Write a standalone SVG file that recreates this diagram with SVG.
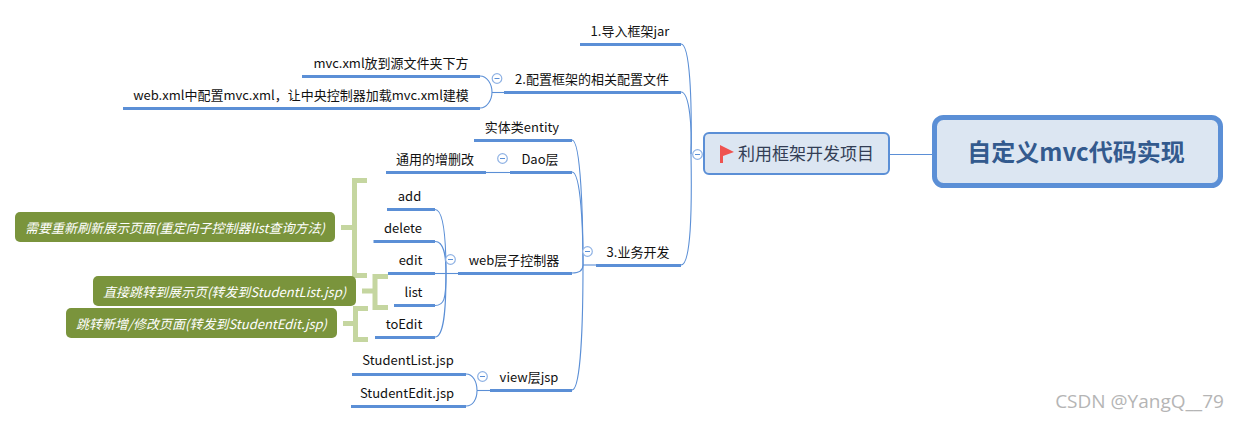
<svg xmlns="http://www.w3.org/2000/svg" width="1239" height="423" viewBox="0 0 1239 423">
<style>
text{font-family:"Noto Sans CJK SC","Noto Sans",sans-serif;font-size:13px;fill:#111;text-anchor:middle}
.u{stroke:#5b8fd6;stroke-width:3;fill:none}
.c{stroke:#5b8fd6;stroke-width:1.1;fill:none}
.o{fill:#fff;stroke:#8fb2e4;stroke-width:1.2}
.m{stroke:#5b8fd6;stroke-width:1;fill:none}
.b{fill:none;stroke:#c5d6a0;stroke-width:5}
.g{fill:#7a943c}
.gt{fill:#fff;font-style:italic}
</style>
<rect width="1239" height="423" fill="#fff"/>
<g id="connectors">
<path class="c" d="M890 154.500H932"/>
<path class="c" d="M691 154C692 100 690 44 681 44"/>
<path class="c" d="M691 154C692 130 690 92 681 92"/>
<path class="c" d="M691 154C692 210 691 265 681 265"/>
<path class="c" d="M583 265H596"/>
<path class="c" d="M583 265C583 220 581 140 572 140"/>
<path class="c" d="M583 265C583 230 581 172 572 172"/>
<path class="c" d="M583 265C583 270 580 273 572 273"/>
<path class="c" d="M583 265C583 320 581 390 572 390"/>
<path class="c" d="M486 172.500H510"/>
<path class="c" d="M435 273.500H458"/>
<path class="c" d="M446 273C446 240 444 209.500 435 209.500"/>
<path class="c" d="M446 273C446 255 444 241.500 435 241.500"/>
<path class="c" d="M446 273C446 300 444 305.500 435 305.500"/>
<path class="c" d="M446 273C446 310 444 337 435 337"/>
<path class="c" d="M477 390.500H490"/>
<path class="c" d="M477 390.500C477 382 473 374 466 374"/>
<path class="c" d="M477 390.500C477 399 473 406 466 406"/>
<path class="c" d="M492 92.500H504"/>
<path class="c" d="M492 92C492 84 487 76 480 76"/>
<path class="c" d="M492 92C492 100 487 108 480 108"/>
<path class="b" d="M367 180.500H354.500V275.500H367M341 227.500H354"/>
<path class="b" d="M388 276.500H375V307.500H388M362 291H375"/>
<path class="b" d="M368 308.500H355.500V339.500H368M343 323.500H355"/>
</g>
<g id="root"><rect x="934.500" y="117.500" width="286" height="68" rx="9" fill="#dce6f2" stroke="#5b8fd6" stroke-width="5"/><text x="1076" y="161" style="font-size:24px;font-weight:700;fill:#335a8e">自定义mvc代码实现</text></g>
<g id="main"><rect x="704" y="133" width="185" height="41" rx="5" fill="#dce6f2" stroke="#5b8fd6" stroke-width="2"/><path d="M720 145L734 152L723 156V163H720Z" fill="#ef5350"/><text x="806" y="160" style="font-size:17px;fill:#333e55">利用框架开发项目</text><circle class="o" cx="697.500" cy="154.500" r="4.800"/><path class="m" d="M695 154.500H700"/></g>
<g id="n1"><path class="u" d="M580 44.500H681"/><text x="630" y="36">1.导入框架jar</text></g>
<g id="n2"><path class="u" d="M504 92.500H681"/><text x="592" y="84">2.配置框架的相关配置文件</text><circle class="o" cx="497" cy="78.500" r="4.800"/><path class="m" d="M494.500 78.500H499.500"/></g>
<g id="n21"><path class="u" d="M302 76.500H480"/><text x="391" y="68">mvc.xml放到源文件夹下方</text></g>
<g id="n22"><path class="u" d="M123 108.500H480"/><text x="301" y="100">web.xml中配置mvc.xml，让中央控制器加载mvc.xml建模</text></g>
<g id="n3"><path class="u" d="M596 265.500H681"/><text x="638" y="257">3.业务开发</text><circle class="o" cx="587.500" cy="251.500" r="4.800"/><path class="m" d="M585 251.500H590"/></g>
<g id="n31"><path class="u" d="M474 140.500H572"/><text x="522" y="132">实体类entity</text></g>
<g id="n32"><path class="u" d="M510 172.500H572"/><text x="540" y="164">Dao层</text><circle class="o" cx="502.500" cy="158.500" r="4.800"/><path class="m" d="M500 158.500H505"/></g>
<g id="n321"><path class="u" d="M386 172.500H486"/><text x="435" y="164">通用的增删改</text></g>
<g id="n33"><path class="u" d="M458 273.500H572"/><text x="514" y="265">web层子控制器</text><circle class="o" cx="450.500" cy="259.500" r="4.800"/><path class="m" d="M448 259.500H453"/></g>
<g id="add"><path class="u" d="M387 209.500H435"/><text x="409.500" y="201">add</text></g>
<g id="delete"><path class="u" d="M373.500 241.500H435"/><text x="403" y="233">delete</text></g>
<g id="edit"><path class="u" d="M388 273.500H435"/><text x="410.500" y="265">edit</text></g>
<g id="list"><path class="u" d="M394 305.500H435"/><text x="413.500" y="297">list</text></g>
<g id="toEdit"><path class="u" d="M375 337.500H435"/><text x="404" y="329">toEdit</text></g>
<g id="n34"><path class="u" d="M490 390.500H572"/><text x="529" y="382">view层jsp</text><circle class="o" cx="482.500" cy="376.500" r="4.800"/><path class="m" d="M480 376.500H485"/></g>
<g id="jsp1"><path class="u" d="M352 374.500H466"/><text x="408" y="365">StudentList.jsp</text></g>
<g id="jsp2"><path class="u" d="M351 406.500H466"/><text x="407" y="398">StudentEdit.jsp</text></g>
<g id="note1"><rect class="g" x="15" y="212" width="320" height="30" rx="5"/><text class="gt" x="175" y="233">需要重新刷新展示页面(重定向子控制器list查询方法)</text></g>
<g id="note2"><rect class="g" x="93" y="276" width="263" height="30" rx="5"/><text class="gt" x="224.500" y="297">直接跳转到展示页(转发到StudentList.jsp)</text></g>
<g id="note3"><rect class="g" x="66" y="308" width="271" height="30" rx="5"/><text class="gt" x="201.500" y="329">跳转新增/修改页面(转发到StudentEdit.jsp)</text></g>
<text id="watermark" x="1139.500" y="408" style="font-family:'Open Sans',sans-serif;font-size:19px;fill:#b5b5b5">CSDN @YangQ__79</text>
</svg>
